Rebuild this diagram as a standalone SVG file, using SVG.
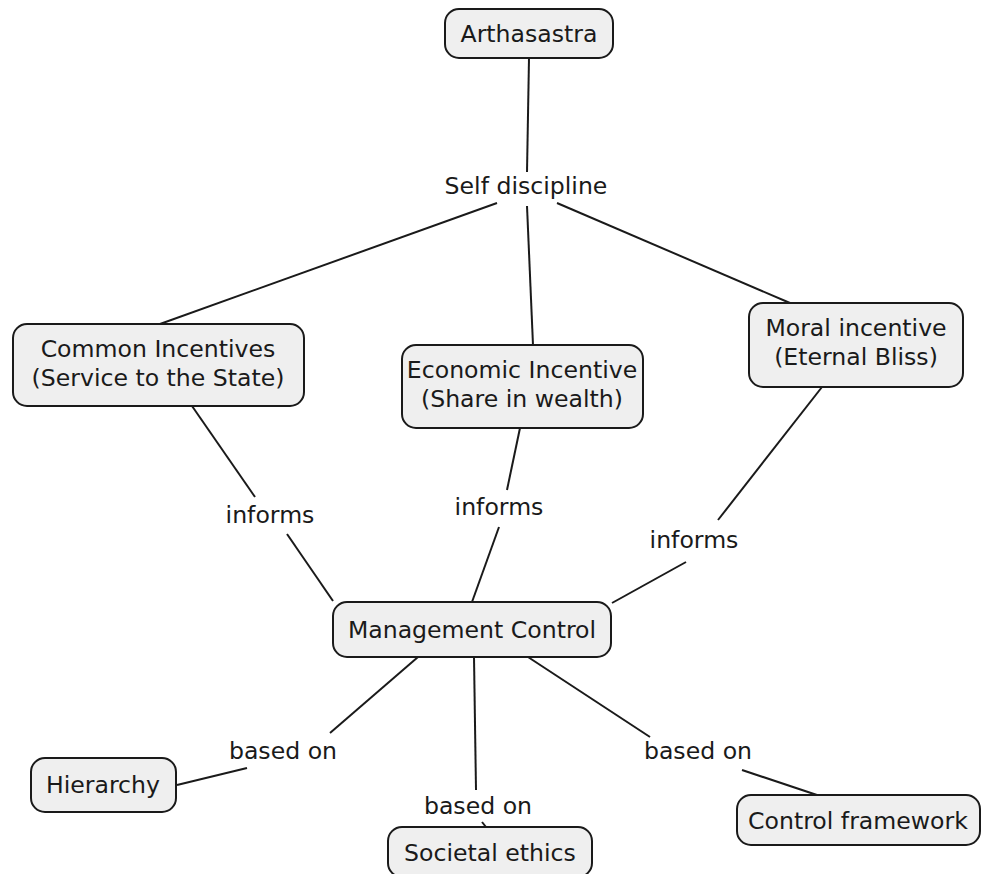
<svg xmlns="http://www.w3.org/2000/svg" width="988" height="874" viewBox="0 0 988 874">
<style>
.node rect{fill:#efefef;stroke:#1a1a1a;stroke-width:2}
text{font-family:"DejaVu Sans","Liberation Sans",sans-serif;font-size:23.6px;fill:#1a1a1a;text-anchor:middle}
#connectors line{stroke:#1a1a1a;stroke-width:2}
</style>
<rect width="988" height="874" fill="#ffffff"/>
<g id="connectors">
<line x1="529" y1="58" x2="527" y2="172"/>
<line x1="497" y1="203" x2="160" y2="324"/>
<line x1="527" y1="206" x2="533" y2="345"/>
<line x1="557" y1="203" x2="790" y2="303"/>
<line x1="192" y1="406" x2="255" y2="497"/>
<line x1="287" y1="534" x2="333" y2="601"/>
<line x1="520" y1="428" x2="507" y2="490"/>
<line x1="499" y1="527" x2="472" y2="602"/>
<line x1="822" y1="387" x2="718" y2="520"/>
<line x1="686" y1="562" x2="612" y2="603"/>
<line x1="418" y1="657" x2="330" y2="733"/>
<line x1="247" y1="768" x2="177" y2="785"/>
<line x1="474" y1="657" x2="476" y2="790"/>
<line x1="482" y1="822" x2="486" y2="827"/>
<line x1="528" y1="657" x2="650" y2="737"/>
<line x1="742" y1="770" x2="817" y2="795"/>
<text x="526" y="194">Self discipline</text>
<text x="270" y="523">informs</text>
<text x="499" y="515">informs</text>
<text x="694" y="548">informs</text>
<text x="283" y="759">based on</text>
<text x="478" y="814">based on</text>
<text x="698" y="759">based on</text>
</g>
<g id="arthasastra" class="node"><rect x="445" y="9" width="168" height="49" rx="14"/><text x="529" y="42">Arthasastra</text></g>
<g id="common" class="node"><rect x="13" y="324" width="291" height="82" rx="14"/><text x="158" y="357">Common Incentives</text><text x="158" y="386">(Service to the State)</text></g>
<g id="economic" class="node"><rect x="402" y="345" width="241" height="83" rx="14"/><text x="522" y="378">Economic Incentive</text><text x="522" y="407">(Share in wealth)</text></g>
<g id="moral" class="node"><rect x="749" y="303" width="214" height="84" rx="14"/><text x="856" y="336">Moral incentive</text><text x="856" y="365">(Eternal Bliss)</text></g>
<g id="management" class="node"><rect x="333" y="602" width="278" height="55" rx="14"/><text x="472" y="638">Management Control</text></g>
<g id="hierarchy" class="node"><rect x="31" y="758" width="145" height="54" rx="14"/><text x="103" y="793">Hierarchy</text></g>
<g id="societal" class="node"><rect x="388" y="827" width="204" height="50" rx="14"/><text x="490" y="861">Societal ethics</text></g>
<g id="control" class="node"><rect x="737" y="795" width="243" height="50" rx="14"/><text x="858" y="829">Control framework</text></g>
</svg>
